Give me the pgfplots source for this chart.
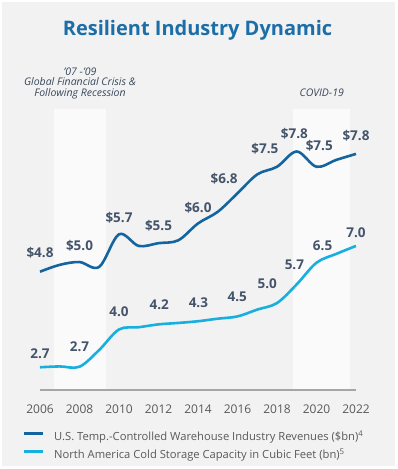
\documentclass[border=0pt]{standalone}
\usepackage{fontspec}
\setmainfont{Open Sans}
\usepackage{pgfplots}
\pgfplotsset{compat=1.18}
\definecolor{panelc}{HTML}{F2F2F2}
\definecolor{bandc}{HTML}{FAFAFA}
\definecolor{revc}{HTML}{14659F}
\definecolor{capc}{HTML}{17AFE0}
\definecolor{labc}{HTML}{44546A}
\definecolor{annc}{HTML}{38465A}
\definecolor{tickc}{HTML}{595959}
\definecolor{ttlc}{HTML}{1B6EA8}
\definecolor{axlc}{HTML}{A6A6A6}
\begin{document}
\begin{tikzpicture}
\path[fill=white, use as bounding box] (-40pt,-79pt) rectangle (357pt,390pt);
\fill[panelc] (-38pt,-76pt) rectangle (355pt,388pt);
\node[anchor=base, font=\fontsize{20}{24}\selectfont\bfseries, text=ttlc] at (157.5pt,354.3pt) {Resilient Industry Dynamic};
\node[anchor=base, font=\fontsize{10.5}{12}\selectfont\itshape, text=annc] at (40pt,314.5pt) {’07 -’09};
\node[anchor=base, font=\fontsize{10.5}{12}\selectfont\itshape, text=annc] at (40pt,304pt) {Global Financial Crisis \&};
\node[anchor=base, font=\fontsize{10.5}{12}\selectfont\itshape, text=annc] at (40pt,293.5pt) {Following Recession};
\node[anchor=base, font=\fontsize{10.5}{12}\selectfont\itshape, text=annc] at (281.7pt,293.5pt) {COVID-19};

\begin{axis}[
  at={(0pt,0pt)}, anchor=south west, scale only axis,
  width=316pt, height=281pt,
  xmin=2006, xmax=2022, ymin=1.857, ymax=8.847,
  axis x line=bottom, axis y line=none,
  x axis line style={axlc, line width=1.2pt, -},
  axis on top,
  xtick={2006,2008,...,2022}, major tick length=0pt,
  /pgf/number format/1000 sep={},
  /pgf/number format/assume math mode=true,
  xticklabel style={font=\fontsize{12}{14}\selectfont, text=tickc, anchor=center, yshift=-19pt},
  ytick=\empty,
  clip=false,
  legend cell align=left,
  legend style={draw=none, fill=none, at={(-0.057,-0.149)}, anchor=north west,
    font=\fontsize{11.2}{13}\selectfont, text=tickc, inner sep=0pt,
    nodes={inner sep=0pt, text height=8.3pt, text depth=2.5pt},
    row sep=7.2pt,
    /tikz/every odd column/.append style={column sep=10pt}},
  legend image code/.code={\draw[#1, line width=3pt] (0pt,3.7pt) -- (19pt,3.7pt);},
]
\fill[bandc] (axis cs:2006.72,1.857) rectangle (axis cs:2009.33,8.847);
\fill[bandc] (axis cs:2018.8,1.857) rectangle (axis cs:2021.7,8.847);
\addplot[revc, line width=2.6pt, smooth, tension=0.55] coordinates {
(2006,4.80) (2007,4.97) (2008,5.04) (2009,4.92) (2010,5.73) (2011,5.44)
(2012,5.51) (2013,5.58) (2014,6.00) (2015,6.29) (2016,6.75) (2017,7.22)
(2018,7.41) (2019,7.79) (2020,7.41) (2021,7.58) (2022,7.73)};
\addlegendentry{U.S. Temp.-Controlled Warehouse Industry Revenues (\$bn)\textsuperscript{4}}
\addlegendimage{capc, line width=3pt}
\addlegendentry{North America Cold Storage Capacity in Cubic Feet (bn)\textsuperscript{5}}
\begin{scope}[every node/.style={font=\fontsize{13.5}{16}\selectfont\bfseries, text=labc, anchor=center}]
\node at (axis cs:2006,5.26) {\$4.8};
\node at (axis cs:2008,5.44) {\$5.0};
\node at (axis cs:2010,6.13) {\$5.7};
\node at (axis cs:2012,5.94) {\$5.5};
\node at (axis cs:2014,6.40) {\$6.0};
\node at (axis cs:2015.32,7.12) {\$6.8};
\node at (axis cs:2017.39,7.87) {\$7.5};
\node at (axis cs:2018.88,8.24) {\$7.8};
\node at (axis cs:2020.14,7.93) {\$7.5};
\node at (axis cs:2022,8.18) {\$7.8};
\end{scope}
\end{axis}

\begin{axis}[
  at={(0pt,0pt)}, anchor=south west, scale only axis,
  width=316pt, height=281pt,
  xmin=2006, xmax=2022, ymin=1.90, ymax=11.79,
  axis lines=none, xtick=\empty, ytick=\empty, clip=false,
]
\addplot[capc, line width=2.6pt, smooth, tension=0.55] coordinates {
(2006,2.70) (2007,2.73) (2008,2.72) (2009,3.31) (2010,4.03) (2011,4.11)
(2012,4.21) (2013,4.26) (2014,4.32) (2015,4.41) (2016,4.49) (2017,4.73)
(2018,4.96) (2019,5.62) (2020,6.38) (2021,6.69) (2022,6.97)};
\begin{scope}[every node/.style={font=\fontsize{13.5}{16}\selectfont\bfseries, text=labc, anchor=center}]
\node at (axis cs:2006,3.19) {2.7};
\node at (axis cs:2008,3.43) {2.7};
\node at (axis cs:2010,4.66) {4.0};
\node at (axis cs:2012.04,4.89) {4.2};
\node at (axis cs:2014.02,4.97) {4.3};
\node at (axis cs:2015.99,5.19) {4.5};
\node at (axis cs:2017.51,5.63) {5.0};
\node at (axis cs:2018.88,6.30) {5.7};
\node at (axis cs:2020.31,6.97) {6.5};
\node at (axis cs:2022,7.42) {7.0};
\end{scope}
\end{axis}
\end{tikzpicture}
\end{document}
